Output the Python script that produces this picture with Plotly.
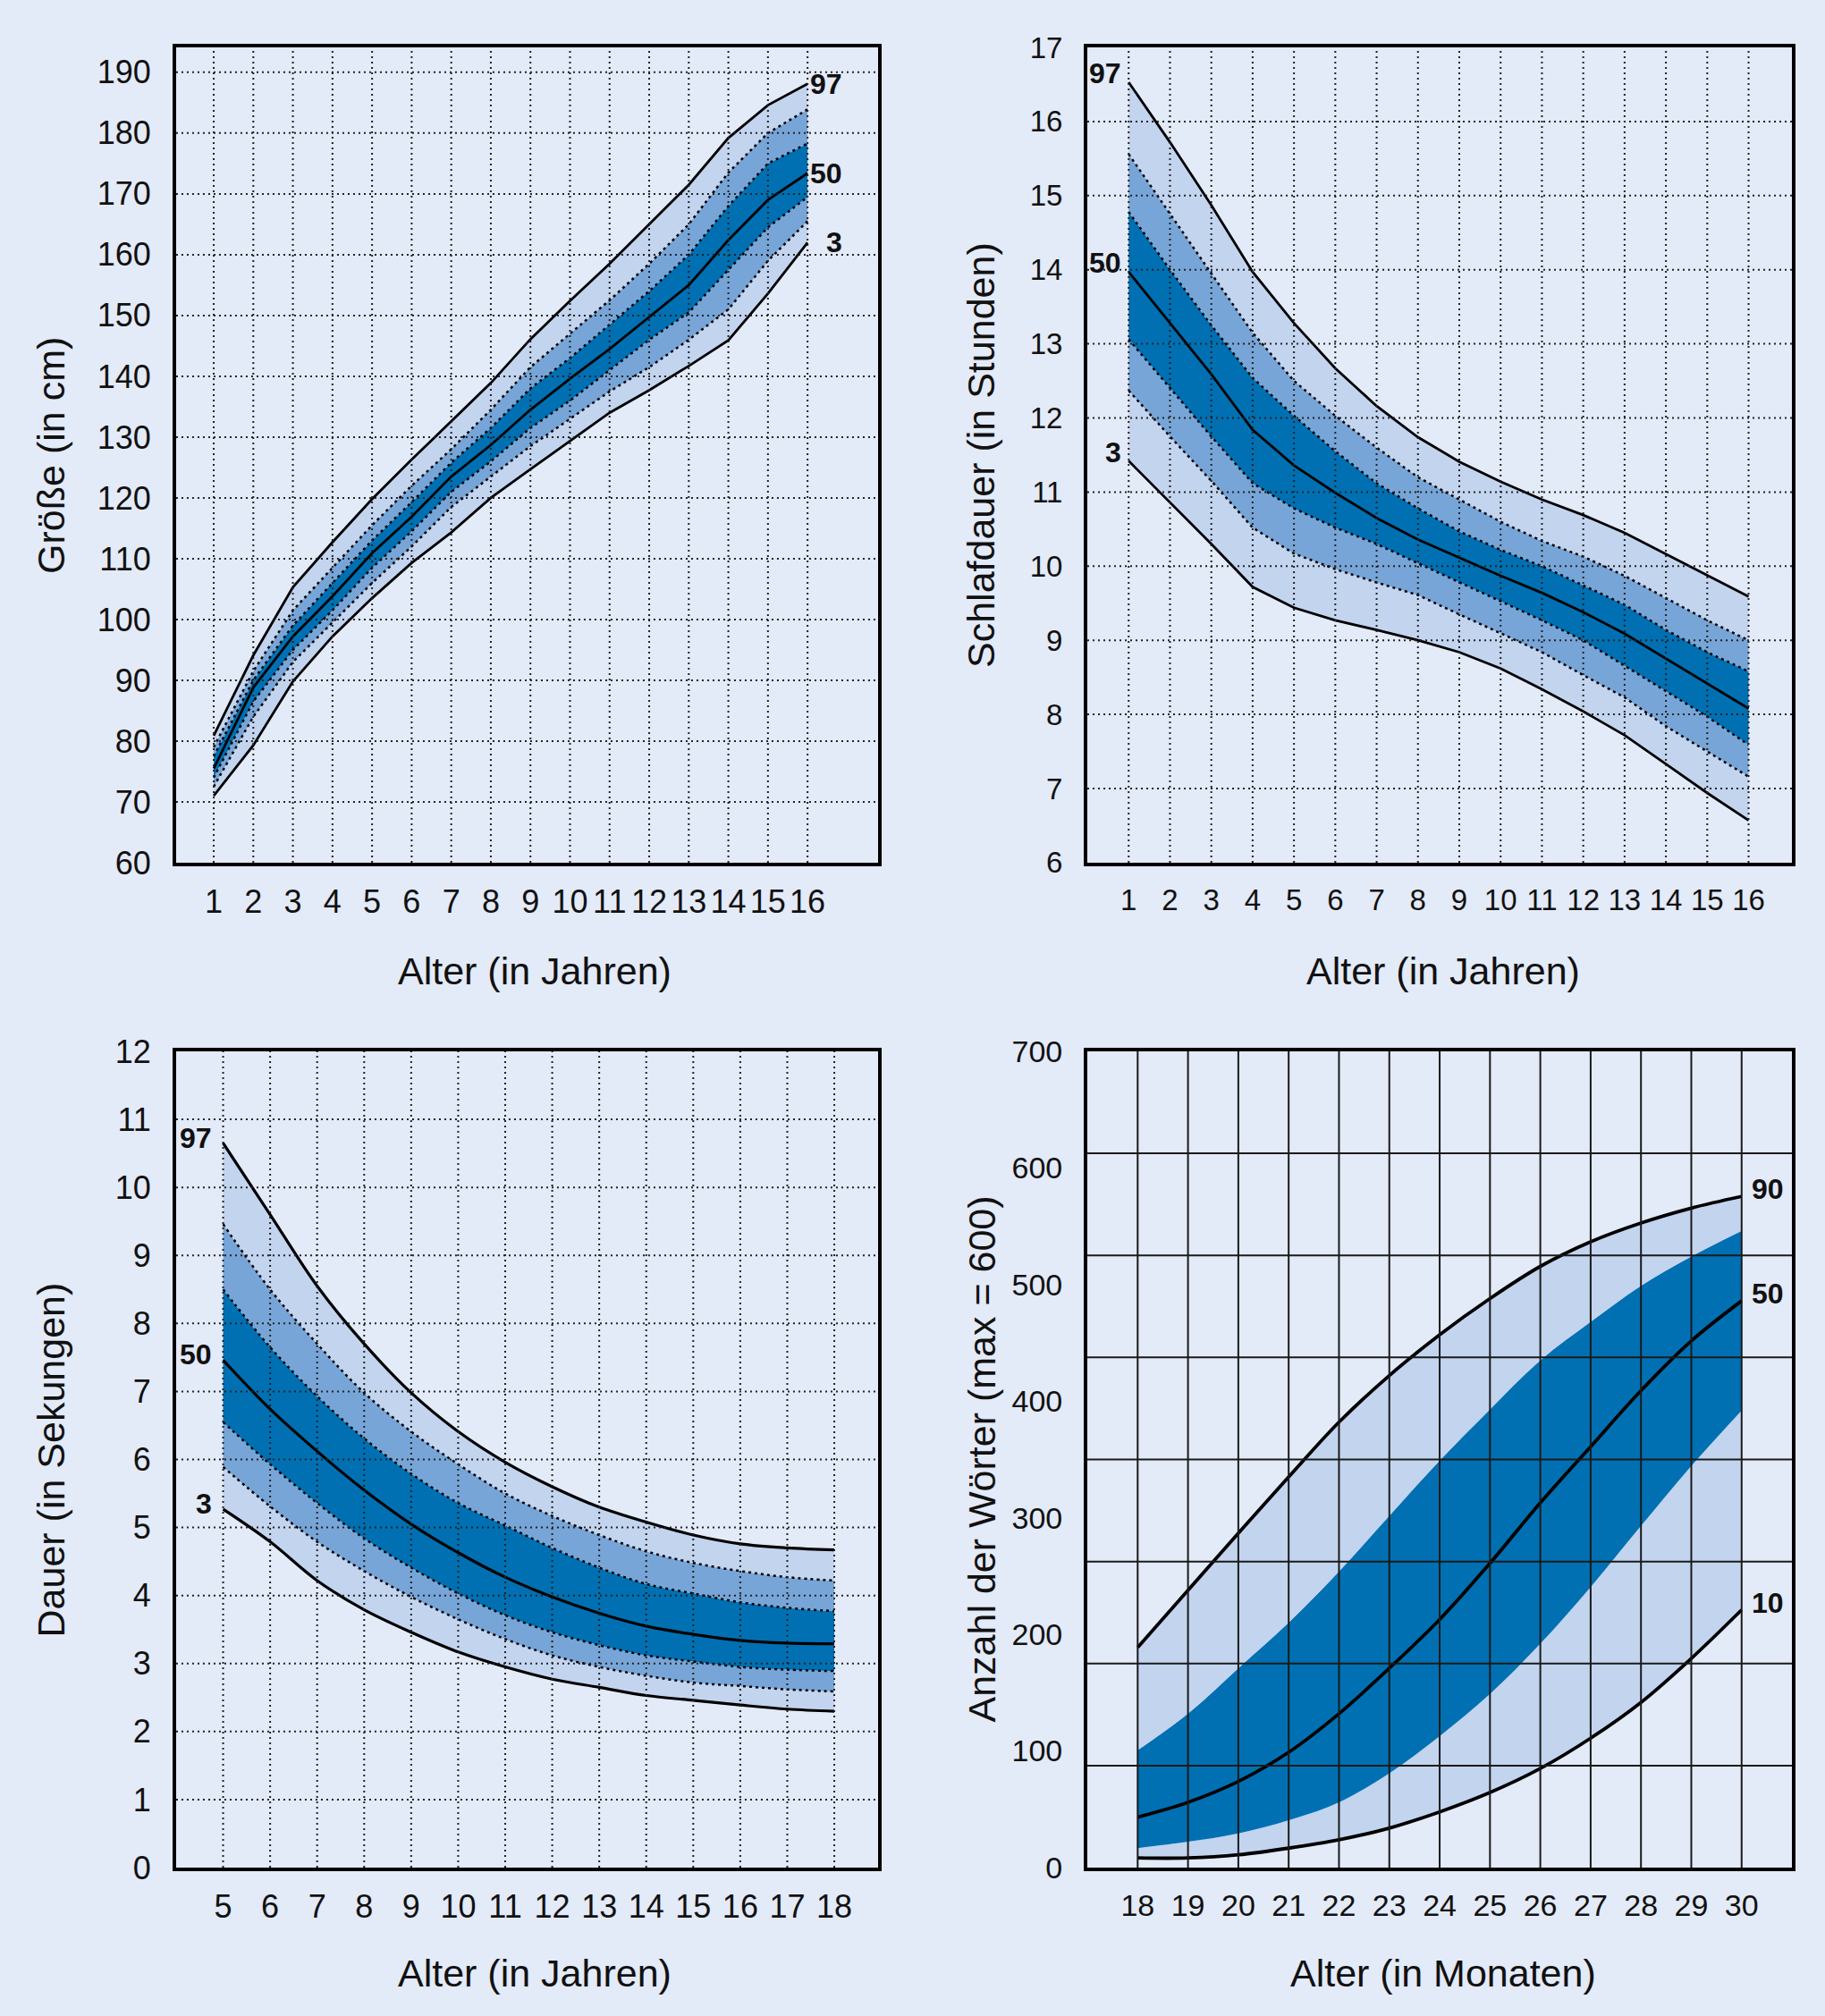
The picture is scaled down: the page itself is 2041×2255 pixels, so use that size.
import plotly.graph_objects as go

BG = "#e3eaf8"
LIGHT = "#c3d4ef"
MID = "#78a5d7"
DARK = "#0070b3"
FONT = "Arial, Liberation Sans, sans-serif"

# --- Größe (in cm), Perzentilen 3..97
groesse_alter = list(range(1, 17))
groesse_p3 = [71, 79.3, 89.8, 97.2, 103.5, 109.3, 114.3, 120, 124.7, 129.3, 134, 137.7, 141.7, 145.9, 153.6, 162]
groesse_p10 = [72.5, 84, 93, 99.5, 106, 112, 118.5, 123.5, 128.5, 133, 137.5, 141.5, 146, 151, 159, 165.5]
groesse_p25 = [74, 86.5, 95, 101.5, 108.5, 114.5, 121, 126, 131.5, 136, 141, 146, 150.5, 157.5, 164.5, 169.5]
groesse_p50 = [75.5, 88.8, 97.2, 103.8, 110.9, 116.9, 123.5, 128.7, 134.5, 139.6, 144.5, 149.8, 155, 162.4, 169, 173.4]
groesse_p75 = [77.5, 90, 99, 106, 113, 119.3, 125.8, 131.5, 138, 143, 148.5, 154, 160, 168, 175, 178.3]
groesse_p90 = [79, 91.5, 101.5, 108.5, 115.5, 122, 128, 134.5, 141.5, 147, 152.5, 158.5, 165, 173.5, 180, 183.9]
groesse_p97 = [80.9, 94.1, 105.3, 112.7, 119.8, 126.3, 132.6, 138.9, 146.1, 152.4, 158.5, 165, 171.5, 179.2, 184.6, 188.1]

# --- Schlafdauer (in Stunden)
schlaf_alter = list(range(1, 17))
schlaf_p3 = [11.42, 10.86, 10.3, 9.72, 9.44, 9.27, 9.14, 9.0, 8.84, 8.62, 8.34, 8.04, 7.72, 7.33, 6.94, 6.57]
schlaf_p10 = [12.37, 11.75, 11.15, 10.52, 10.17, 9.96, 9.78, 9.61, 9.35, 9.09, 8.84, 8.53, 8.23, 7.84, 7.5, 7.16]
schlaf_p25 = [13.06, 12.4, 11.75, 11.12, 10.78, 10.52, 10.3, 10.04, 9.78, 9.53, 9.27, 9.0, 8.66, 8.32, 7.97, 7.59]
schlaf_p50 = [13.97, 13.28, 12.59, 11.84, 11.36, 10.99, 10.65, 10.36, 10.11, 9.87, 9.64, 9.38, 9.09, 8.75, 8.42, 8.08]
schlaf_p75 = [14.78, 14.0, 13.25, 12.54, 12.03, 11.55, 11.12, 10.78, 10.47, 10.22, 10.0, 9.74, 9.48, 9.14, 8.84, 8.58]
schlaf_p90 = [15.56, 14.75, 13.95, 13.15, 12.5, 12.03, 11.6, 11.2, 10.9, 10.6, 10.34, 10.13, 9.87, 9.57, 9.27, 9.0]
schlaf_p97 = [16.53, 15.72, 14.87, 13.97, 13.28, 12.67, 12.16, 11.74, 11.41, 11.14, 10.9, 10.69, 10.45, 10.16, 9.87, 9.59]

# --- Dauer (in Sekungen)
dauer_alter = list(range(5, 19))
dauer_p3 = [5.27, 4.79, 4.22, 3.79, 3.46, 3.17, 2.95, 2.77, 2.65, 2.53, 2.46, 2.39, 2.33, 2.3]
dauer_p10 = [5.89, 5.31, 4.79, 4.36, 3.98, 3.65, 3.36, 3.12, 2.95, 2.82, 2.72, 2.67, 2.62, 2.59]
dauer_p25 = [6.55, 5.93, 5.36, 4.84, 4.41, 4.03, 3.71, 3.46, 3.27, 3.12, 3.03, 2.95, 2.91, 2.89]
dauer_p50 = [7.46, 6.74, 6.12, 5.55, 5.05, 4.63, 4.27, 3.98, 3.74, 3.55, 3.43, 3.34, 3.3, 3.29]
dauer_p75 = [8.5, 7.65, 6.93, 6.31, 5.79, 5.36, 5.03, 4.7, 4.41, 4.17, 4.03, 3.9, 3.82, 3.77]
dauer_p90 = [9.46, 8.5, 7.7, 6.98, 6.41, 5.93, 5.5, 5.17, 4.89, 4.65, 4.48, 4.36, 4.27, 4.22]
dauer_p97 = [10.65, 9.6, 8.55, 7.7, 6.98, 6.41, 5.96, 5.6, 5.3, 5.08, 4.89, 4.76, 4.7, 4.67]

# --- Anzahl der Wörter
woerter_monate = list(range(18, 31))
woerter_p10 = [8.3, 8.3, 11, 16.7, 23.9, 33.9, 47.8, 64.4, 85, 111, 141.7, 179.4, 221]
woerter_unten = [16.7, 22.2, 29.4, 40.6, 56, 81, 112.8, 148.9, 192, 240.6, 293, 344.4, 392]
woerter_p50 = [43.3, 56, 73.9, 98.9, 132, 171, 212.8, 261, 312.8, 361, 409, 451.7, 486]
woerter_oben = [100.6, 132, 171, 210, 254, 301.7, 349, 393, 435, 468, 499, 524, 546]
woerter_p90 = [188.9, 237.8, 286.7, 335, 382, 422, 457, 488, 515.6, 536.7, 552.8, 565.6, 575.6]

groesse_yticks = list(range(60, 191, 10))
schlaf_yticks = list(range(6, 18))
dauer_yticks = list(range(0, 13))
woerter_yticks = list(range(0, 701, 100))
woerter_ygrid = [87.5, 175, 262.5, 350, 437.5, 525, 612.5]

fig = go.Figure()


def add_bands(x, bounds, colors, xa, ya, shape="linear"):
    fig.add_trace(go.Scatter(x=x, y=bounds[0], mode="lines", line=dict(width=0, shape=shape),
                             xaxis=xa, yaxis=ya, showlegend=False, hoverinfo="skip"))
    for b, c in zip(bounds[1:], colors):
        fig.add_trace(go.Scatter(x=x, y=b, mode="lines", line=dict(width=0, shape=shape),
                                 fill="tonexty", fillcolor=c,
                                 xaxis=xa, yaxis=ya, showlegend=False, hoverinfo="skip"))


def add_line(x, y, xa, ya, dash="solid", width=2.5, shape="linear"):
    fig.add_trace(go.Scatter(x=x, y=y, mode="lines",
                             line=dict(color="black", width=width, dash=dash, shape=shape),
                             xaxis=xa, yaxis=ya, showlegend=False, hoverinfo="skip"))


def add_grid(xa, ya, xs, ys, dash, width, color):
    for v in xs:
        fig.add_shape(type="line", xref=xa, yref=ya + " domain", x0=v, x1=v, y0=0, y1=1,
                      line=dict(color=color, width=width, dash=dash), layer="above")
    for v in ys:
        fig.add_shape(type="line", xref=xa + " domain", yref=ya, x0=0, x1=1, y0=v, y1=v,
                      line=dict(color=color, width=width, dash=dash), layer="above")


DOT = "3px,4px"
GRIDDOT = "2px,4px"

# Panel 1: Größe
add_bands(groesse_alter, [groesse_p3, groesse_p10, groesse_p25, groesse_p75, groesse_p90, groesse_p97],
          [LIGHT, MID, DARK, MID, LIGHT], "x", "y")
for s in [groesse_p10, groesse_p25, groesse_p75, groesse_p90]:
    add_line(groesse_alter, s, "x", "y", dash=DOT)
for s in [groesse_p3, groesse_p50, groesse_p97]:
    add_line(groesse_alter, s, "x", "y", width=2.8)
add_grid("x", "y", groesse_alter, groesse_yticks[1:], GRIDDOT, 2, "#222")

# Panel 2: Schlafdauer
add_bands(schlaf_alter, [schlaf_p3, schlaf_p10, schlaf_p25, schlaf_p75, schlaf_p90, schlaf_p97],
          [LIGHT, MID, DARK, MID, LIGHT], "x2", "y2")
for s in [schlaf_p10, schlaf_p25, schlaf_p75, schlaf_p90]:
    add_line(schlaf_alter, s, "x2", "y2", dash=DOT)
for s in [schlaf_p3, schlaf_p50, schlaf_p97]:
    add_line(schlaf_alter, s, "x2", "y2", width=2.8)
add_grid("x2", "y2", schlaf_alter, schlaf_yticks[1:-1], GRIDDOT, 2, "#222")

# Panel 3: Dauer
add_bands(dauer_alter, [dauer_p3, dauer_p10, dauer_p25, dauer_p75, dauer_p90, dauer_p97],
          [LIGHT, MID, DARK, MID, LIGHT], "x3", "y3", shape="spline")
for s in [dauer_p10, dauer_p25, dauer_p75, dauer_p90]:
    add_line(dauer_alter, s, "x3", "y3", dash=DOT, shape="spline")
for s in [dauer_p3, dauer_p50, dauer_p97]:
    add_line(dauer_alter, s, "x3", "y3", width=3.2, shape="spline")
add_grid("x3", "y3", dauer_alter, dauer_yticks[1:-1], GRIDDOT, 2, "#222")

# Panel 4: Wörter
add_bands(woerter_monate, [woerter_p10, woerter_unten, woerter_oben, woerter_p90],
          [LIGHT, DARK, LIGHT], "x4", "y4", shape="spline")
for s in [woerter_p10, woerter_p50, woerter_p90]:
    add_line(woerter_monate, s, "x4", "y4", width=3.8, shape="spline")
add_grid("x4", "y4", woerter_monate, woerter_ygrid, "solid", 2, "#1a1a1a")


def axis(domain, rng, tickvals, anchor, size, standoff):
    return dict(domain=domain, range=rng, tickvals=tickvals, anchor=anchor,
                showgrid=False, zeroline=False, showline=True, mirror=True,
                linecolor="black", linewidth=4, ticks="", automargin=False,
                tickfont=dict(size=size, color="#111", family=FONT),
                ticklabelstandoff=standoff, fixedrange=True)


XL = [0.0965, 0.4811]
XR = [0.5958, 0.9819]
YT = [0.5721, 0.9765]
YB = [0.0736, 0.4785]

fig.update_layout(
    width=2041, height=2255,
    paper_bgcolor=BG, plot_bgcolor=BG,
    margin=dict(l=0, r=0, t=0, b=0, autoexpand=False),
    font=dict(family=FONT, color="#111"),
    xaxis=axis(XL, [0.05, 17.78], groesse_alter, "y", 36, 9),
    yaxis=axis(YT, [60, 194.1], groesse_yticks, "x", 36, 17),
    xaxis2=axis(XR, [0, 17.05], schlaf_alter, "y2", 33, 9),
    yaxis2=axis(YT, [6, 17], schlaf_yticks, "x2", 33, 17),
    xaxis3=axis(XL, [4, 18.93], dauer_alter, "y3", 36, 9),
    yaxis3=axis(YB, [0, 12], dauer_yticks, "x3", 36, 17),
    xaxis4=axis(XR, [17, 31], woerter_monate, "y4", 34, 9),
    yaxis4=axis(YB, [0, 700], woerter_yticks, "x4", 34, 17),
)

lab = dict(size=32, color="#111", family=FONT)


def label(text, x, y, xa, ya, xanchor, xshift, yshift):
    fig.add_annotation(text="<b>%s</b>" % text, x=x, y=y, xref=xa, yref=ya, showarrow=False,
                       xanchor=xanchor, yanchor="middle", xshift=xshift, yshift=yshift, font=lab)


for t, s in [("97", groesse_p97), ("50", groesse_p50), ("3", groesse_p3)]:
    label(t, groesse_alter[-1], s[-1], "x", "y", "right", 41, 0)
for t, s in [("97", schlaf_p97), ("50", schlaf_p50), ("3", schlaf_p3)]:
    label(t, schlaf_alter[0], s[0], "x2", "y2", "right", -6, 10)
for t, s in [("97", dauer_p97), ("50", dauer_p50), ("3", dauer_p3)]:
    label(t, dauer_alter[0], s[0], "x3", "y3", "right", -11, 6)
for t, s in [("90", woerter_p90), ("50", woerter_p50), ("10", woerter_p10)]:
    label(t, woerter_monate[-1], s[-1], "x4", "y4", "left", 9, 8)

title = dict(size=43, color="#111", family=FONT)
for text, x, y in [("Alter (in Jahren)", 0.293, 0.5184), ("Alter (in Jahren)", 0.791, 0.5184),
                   ("Alter (in Jahren)", 0.293, 0.0213), ("Alter (in Monaten)", 0.791, 0.0213)]:
    fig.add_annotation(text=text, x=x, y=y, xref="paper", yref="paper", showarrow=False,
                       xanchor="center", yanchor="middle", font=title)
for text, x, y in [("Größe (in cm)", 0.0279, sum(YT) / 2), ("Schlafdauer (in Stunden)", 0.5375, sum(YT) / 2),
                   ("Dauer (in Sekungen)", 0.0279, sum(YB) / 2), ("Anzahl der Wörter (max = 600)", 0.5375, sum(YB) / 2)]:
    fig.add_annotation(text=text, x=x, y=y, xref="paper", yref="paper", showarrow=False, textangle=-90,
                       xanchor="center", yanchor="middle", font=title)

fig.write_html("out.html", config={"displayModeBar": False},
               post_script="document.body.style.margin='0';")
